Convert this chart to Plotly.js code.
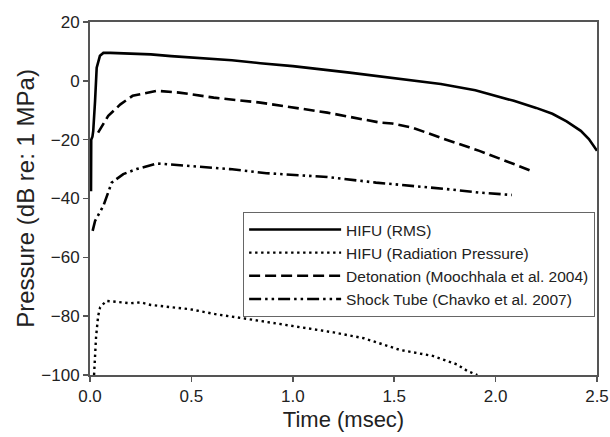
<!DOCTYPE html>
<html>
<head>
<meta charset="utf-8">
<script src="https://cdn.plot.ly/plotly-3.0.1.min.js"></script>
<style>html,body{margin:0;padding:0;background:#fff;}#chart{width:610px;height:437px;}</style>
</head>
<body>
<div id="chart"></div>
<script>
// HIFU (RMS)
var rmsX = [0.005, 0.006, 0.012, 0.016, 0.025, 0.033, 0.049, 0.066, 0.1, 0.2, 0.3, 0.4, 0.5, 0.6, 0.7, 0.84, 1.0, 1.28, 1.5, 1.73, 1.9, 2.09, 2.2, 2.28, 2.35, 2.42, 2.46, 2.5];
var rmsY = [-37.5, -20, -19, -17, -6.8, 4.5, 8.5, 9.5, 9.5, 9.2, 9.0, 8.4, 8.0, 7.6, 7.0, 6.0, 5.0, 2.8, 1.0, -1.1, -3.2, -6.8, -9.2, -11.2, -13.8, -17, -19.8, -23.8];
// HIFU (Radiation Pressure)
var radX = [0.02, 0.025, 0.03, 0.04, 0.05, 0.08, 0.15, 0.2, 0.25, 0.3, 0.49, 0.625, 0.8, 0.95, 1.2, 1.35, 1.53, 1.69, 1.81, 1.86, 1.91];
var radY = [-100, -93, -87, -80, -77, -74.8, -75.2, -75.6, -75.3, -76.2, -77.6, -79.4, -81.2, -82.8, -85.5, -87.5, -91.5, -93.5, -96.4, -98.6, -100];
// Detonation (Moochhala et al. 2004)
var detX = [0.04, 0.09, 0.15, 0.21, 0.33, 0.44, 0.61, 0.84, 1.17, 1.43, 1.49, 1.59, 1.74, 1.92, 2.09, 2.19];
var detY = [-17.6, -11.9, -8, -5.1, -3.4, -4.0, -5.7, -7.4, -10.8, -14.2, -14.5, -15.9, -19.6, -23.8, -28.3, -31];
// Shock Tube (Chavko et al. 2007)
var stX = [0.013, 0.025, 0.066, 0.107, 0.164, 0.23, 0.33, 0.48, 0.69, 0.87, 1.17, 1.41, 1.59, 1.76, 1.92, 2.08];
var stY = [-51, -47.6, -42.5, -34.6, -31.7, -30, -28.1, -28.9, -30, -31.4, -32.7, -34.6, -35.7, -36.8, -38, -38.8];

var names = ['HIFU (RMS)', 'HIFU (Radiation Pressure)', 'Detonation (Moochhala et al. 2004)', 'Shock Tube (Chavko et al. 2007)'];
var xTicks = [0, 0.5, 1.0, 1.5, 2.0, 2.5];
var xTickText = ['0.0', '0.5', '1.0', '1.5', '2.0', '2.5'];
var yTicks = [-100, -80, -60, -40, -20, 0, 20];

var font = 'Liberation Sans, Arial, sans-serif';
var traces = [
  {x: rmsX, y: rmsY, name: names[0], mode: 'lines', line: {color: '#000', width: 2.6, dash: 'solid'}},
  {x: radX, y: radY, name: names[1], mode: 'lines', line: {color: '#000', width: 2.4, dash: '2.4px,3.6px'}},
  {x: detX, y: detY, name: names[2], mode: 'lines', line: {color: '#000', width: 2.6, dash: '11px,5px'}},
  {x: stX, y: stY, name: names[3], mode: 'lines', line: {color: '#000', width: 2.6, dash: '12px,4px,2.5px,4px,2.5px,4px'}}
];

var layout = {
  width: 610, height: 437,
  margin: {l: 90, r: 13, t: 22, b: 62},
  paper_bgcolor: '#fff', plot_bgcolor: '#fff',
  showlegend: true,
  legend: {
    x: 0.302, y: 0.462, xanchor: 'left', yanchor: 'top',
    bgcolor: '#fff', bordercolor: '#666', borderwidth: 1,
    font: {family: font, size: 15.5, color: '#222'},
    itemwidth: 92, tracegroupgap: 0
  },
  xaxis: {
    range: [0, 2.5], tickvals: xTicks, ticktext: xTickText,
    showgrid: false, zeroline: false,
    showline: true, linecolor: '#555', linewidth: 2, mirror: true,
    ticks: 'outside', ticklen: 5, tickwidth: 1.5, tickcolor: '#555',
    tickfont: {family: font, size: 17, color: '#222'},
    title: {text: 'Time (msec)', font: {family: font, size: 22, color: '#222'}, standoff: 6}
  },
  yaxis: {
    range: [-100, 20], tickvals: yTicks,
    showgrid: false, zeroline: false,
    showline: true, linecolor: '#555', linewidth: 2, mirror: true,
    ticks: 'outside', ticklen: 5, tickwidth: 1.5, tickcolor: '#555',
    tickfont: {family: font, size: 17, color: '#222'},
    title: {text: 'Pressure (dB re: 1 MPa)', font: {family: font, size: 24, color: '#222'}, standoff: 0}
  }
};

Plotly.newPlot('chart', traces, layout, {displayModeBar: false, staticPlot: true});
</script>
</body>
</html>
